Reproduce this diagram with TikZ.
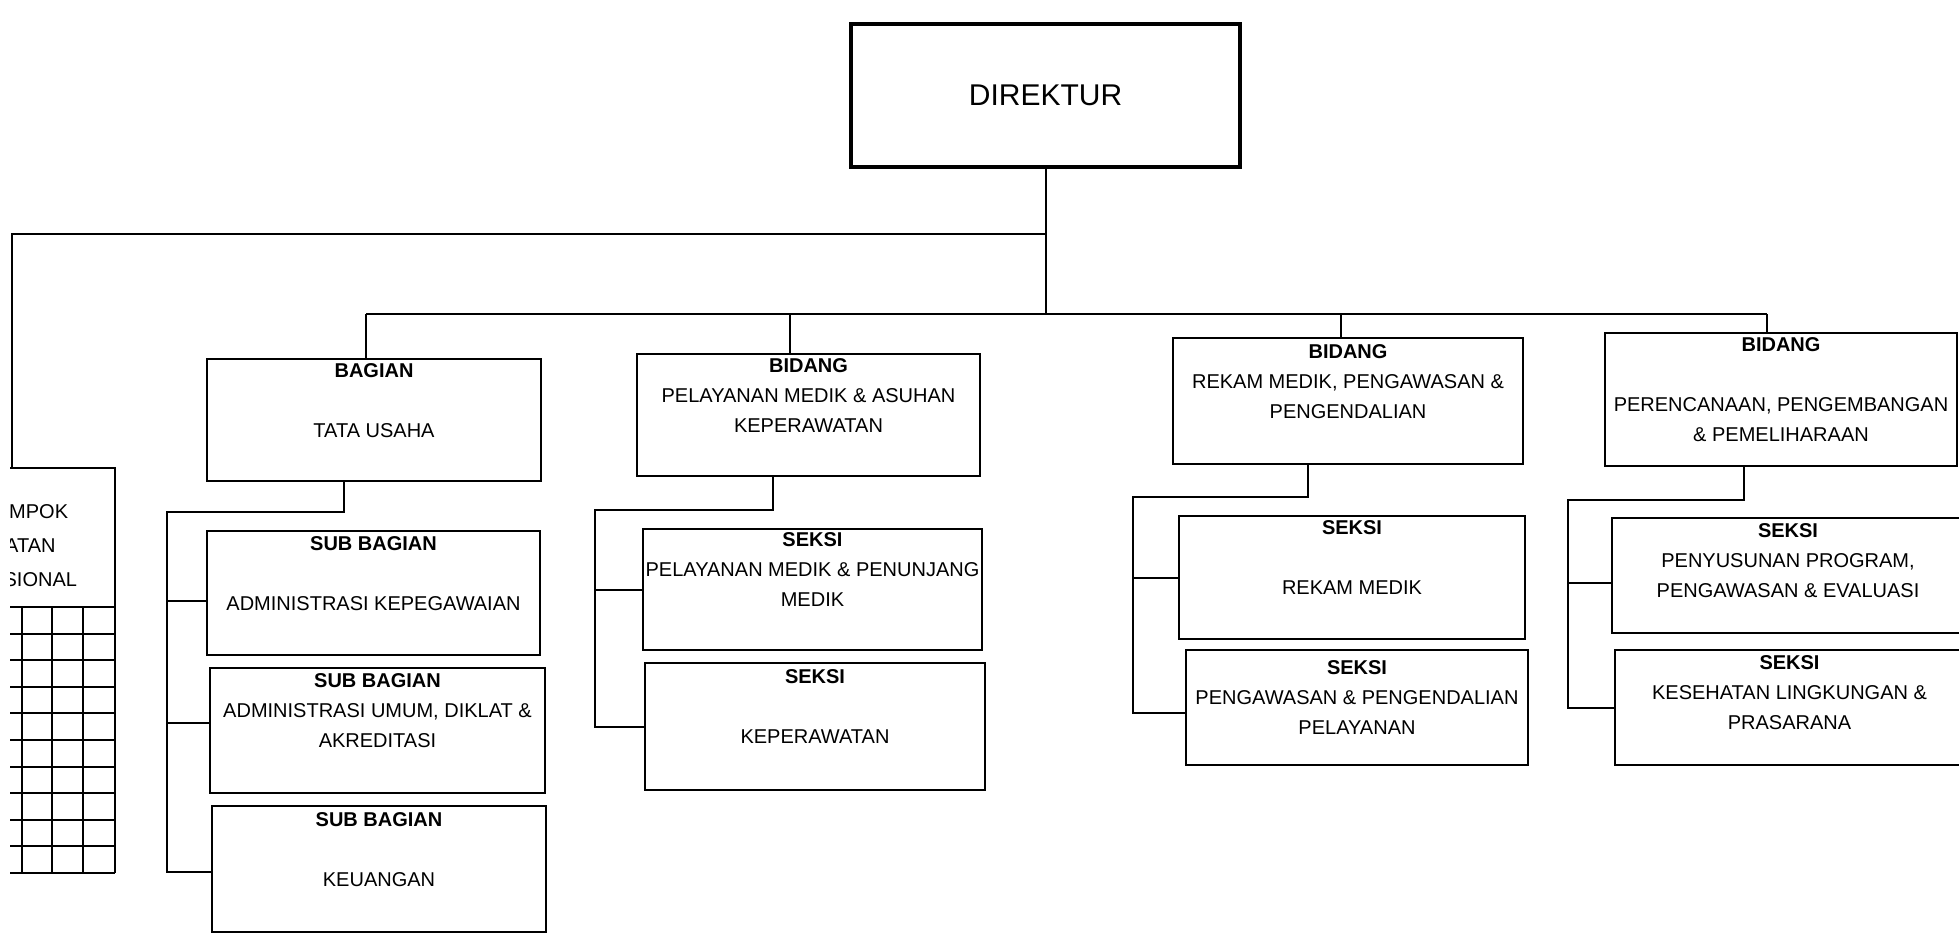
\documentclass[tikz,border=0pt]{standalone}
\usepackage{fontspec}
\setmainfont{Liberation Sans}
\begin{document}
\begin{tikzpicture}[x=0.5pt, y=-0.5pt, line width=1pt,
	unit/.style 2 args = {draw, rectangle, inner sep=0pt, align=center, minimum width=#1, minimum height=#2, font=\fontsize{10}{15}\selectfont},
	head/.style = {draw, line width=2pt, minimum width=194.5pt, minimum height=71.5pt, font=\fontsize{15}{18}\selectfont}]
	\useasboundingbox (0,0) rectangle (1959,935);
	\clip (10,0) rectangle (1959,935);
	\node[head] (dir) at (1045.5,95.5) {DIREKTUR};
	\node[unit={103pt}{69.5pt}] (kel) at (12,537.5) {};
	\node[align=center, font=\fontsize{10}{17}\selectfont] (keltxt) at (12,546) {KELOMPOK\\JABATAN\\FUNGSIONAL};
	\foreach \i in {0,...,10}
		\draw (-100,{607+26.6*\i}) -- (115,{607+26.6*\i});
	\foreach \x in {22,52,83,115}
		\draw (\x,607) -- (\x,873);
	\node[unit={167pt}{61pt}] (tu) at (374,420) {\textbf{BAGIAN}\\[15pt]TATA USAHA\\ \strut};
	\node[unit={166.5pt}{62pt}] (kepeg) at (373.5,593) {\textbf{SUB BAGIAN}\\[15pt]ADMINISTRASI KEPEGAWAIAN\\ \strut};
	\node[unit={167.5pt}{62.5pt}] (umum) at (377.5,730.5) {\textbf{SUB BAGIAN}\\ADMINISTRASI UMUM, DIKLAT \&\\AKREDITASI\\ \strut};
	\node[unit={167pt}{63pt}] (keu) at (379,869) {\textbf{SUB BAGIAN}\\[15pt]KEUANGAN\\ \strut};
	\node[unit={171.5pt}{61pt}] (pel) at (808.5,415) {\textbf{BIDANG}\\PELAYANAN MEDIK \& ASUHAN\\KEPERAWATAN\\ \strut};
	\node[unit={169.5pt}{60.5pt}] (pm) at (812.5,589.5) {\textbf{SEKSI}\\PELAYANAN MEDIK \& PENUNJANG\\MEDIK\\ \strut};
	\node[unit={170pt}{63.5pt}] (kep) at (815,726.5) {\textbf{SEKSI}\\[15pt]KEPERAWATAN\\ \strut};
	\node[unit={175pt}{63pt}] (rek) at (1348,401) {\textbf{BIDANG}\\REKAM MEDIK, PENGAWASAN \&\\PENGENDALIAN\\ \strut};
	\node[unit={173pt}{61.5pt}] (rm) at (1352,577.5) {\textbf{SEKSI}\\[15pt]REKAM MEDIK\\ \strut};
	\node[unit={171pt}{57.5pt}] (pgw) at (1357,707.5) {\textbf{SEKSI}\\PENGAWASAN \& PENGENDALIAN\\PELAYANAN\\[-10pt]\strut};
	\node[unit={176pt}{66.5pt}] (ren) at (1781,399.5) {\textbf{BIDANG}\\[15pt]PERENCANAAN, PENGEMBANGAN\\\& PEMELIHARAAN\\[-10pt]\strut};
	\node[unit={176pt}{57.5pt}] (sus) at (1788,575.5) {\textbf{SEKSI}\\PENYUSUNAN PROGRAM,\\PENGAWASAN \& EVALUASI\\[-5pt]\strut};
	\node[unit={174.5pt}{57.5pt}] (kes) at (1789.5,707.5) {\textbf{SEKSI}\\KESEHATAN LINGKUNGAN \&\\PRASARANA\\[-5pt]\strut};
	\coordinate (jtop) at (1046,234);
	\coordinate (jmain) at (1046,314);
	\draw (dir.south -| jtop) -- (jmain);
	\draw (jtop) -| (kel.north);
	\coordinate (b1) at (366,314);
	\coordinate (b2) at (790,314);
	\coordinate (b3) at (1341,314);
	\coordinate (b4) at (1767,314);
	\draw (b1) -- (b4);
	\foreach \b/\n in {b1/tu, b2/pel, b3/rek, b4/ren}
		\draw (\b) -- (\b |- \n.north);
	\coordinate (t1) at (344,512);
	\coordinate (t2) at (167,512);
	\draw (tu.south -| t1) -- (t1) -- (t2) |- ([yshift=-1.5pt]keu.west);
	\draw (t2) |- ([yshift=-4pt]kepeg.west);
	\draw (t2) |- ([yshift=4pt]umum.west);
	\coordinate (p1) at (773,510);
	\coordinate (p2) at (595,510);
	\draw (pel.south -| p1) -- (p1) -- (p2) |- (kep.west);
	\draw (p2) |- (pm.west);
	\coordinate (r1) at (1308,497);
	\coordinate (r2) at (1133,497);
	\draw (rek.south -| r1) -- (r1) -- (r2) |- ([yshift=-2.75pt]pgw.west);
	\draw (r2) |- (rm.west);
	\coordinate (n1) at (1744,500);
	\coordinate (n2) at (1568,500);
	\draw (ren.south -| n1) -- (n1) -- (n2) |- (kes.west);
	\draw (n2) |- ([yshift=-3.75pt]sus.west);
\end{tikzpicture}
\end{document}
